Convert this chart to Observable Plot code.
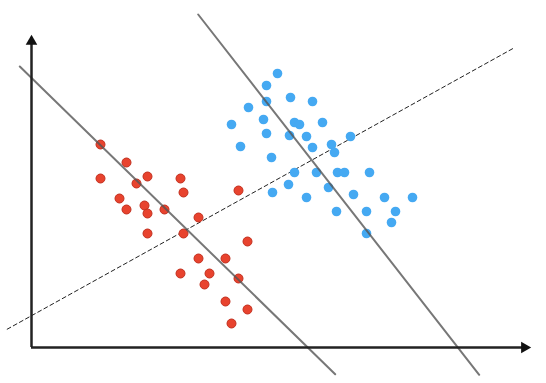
<!DOCTYPE html>
<html>
<head>
<meta charset="utf-8">
<script src="https://cdn.jsdelivr.net/npm/d3@7"></script>
<script src="https://cdn.jsdelivr.net/npm/@observablehq/plot@0.6"></script>
<style>
  html, body { margin: 0; padding: 0; background: #fff; }
  #chart svg { display: block; }
</style>
</head>
<body>
<div id="chart"></div>
<script>
// Class A (red) points
const redX = [6.9, 9.5, 6.9, 11.6, 10.5, 14.9, 15.2, 20.7, 8.8, 9.5, 11.3, 11.6, 13.3, 16.7, 11.6, 15.2, 21.6, 16.7, 19.4, 14.9, 17.8, 17.3, 20.7, 19.4, 21.6, 20.0];
const redY = [20.3, 18.5, 16.9, 17.1, 16.4, 16.9, 15.5, 15.7, 14.9, 13.8, 14.2, 13.4, 13.8, 13.0, 11.4, 11.4, 10.6, 8.9, 8.9, 7.4, 7.4, 6.3, 6.9, 4.6, 3.8, 2.4];
// Class B (blue) points
const blueX = [24.6, 23.5, 25.9, 23.5, 28.1, 21.7, 20.0, 23.2, 26.3, 26.8, 29.1, 23.5, 25.8, 27.5, 31.9, 30.0, 20.9, 28.1, 30.3, 24.0, 26.3, 28.5, 30.6, 31.3, 33.8, 25.7, 29.7, 24.1, 27.5, 32.2, 35.3, 38.1, 30.5, 33.5, 36.4, 36.0, 33.5];
const blueY = [27.4, 26.2, 25.0, 24.6, 24.6, 24.0, 22.3, 22.8, 22.5, 22.3, 22.5, 21.4, 21.2, 21.1, 21.1, 20.3, 20.1, 20.0, 19.5, 19.0, 17.5, 17.5, 17.5, 17.5, 17.5, 16.3, 16.0, 15.5, 15.0, 15.3, 15.0, 15.0, 13.6, 13.6, 13.6, 12.5, 11.4];
// Line endpoints [x1, y1, x2, y2]
const lineLeft = [-1.17, 28.1, 30.37, -2.67];
const lineRight = [16.67, 33.3, 44.77, -2.73];
const lineDashed = [-2.43, 1.83, 48.2, 29.93];
// Axes extents
const xAxisEnd = 49.2;
const yAxisEnd = 30.5;

const red = redX.map((x, i) => ({x, y: redY[i]}));
const blue = blueX.map((x, i) => ({x, y: blueY[i]}));
const seg = (a) => [{x: a[0], y: a[1]}, {x: a[2], y: a[3]}];

const chart = Plot.plot({
  width: 546,
  height: 383,
  margin: 0,
  x: {domain: [-3.1, 51.5], axis: null},
  y: {domain: [-3.6, 34.7], axis: null},
  marks: [
    Plot.line(seg(lineDashed), {x: "x", y: "y", stroke: "#222", strokeWidth: 1, strokeDasharray: "4,3"}),
    Plot.dot(red, {x: "x", y: "y", r: 4.5, fill: "#e8432e", stroke: "#c22f1e", strokeWidth: 1}),
    Plot.dot(blue, {x: "x", y: "y", r: 4.8, fill: "#45a9f2", stroke: "none"}),
    Plot.line(seg(lineLeft), {x: "x", y: "y", stroke: "#555", strokeOpacity: 0.8, strokeWidth: 2}),
    Plot.line(seg(lineRight), {x: "x", y: "y", stroke: "#555", strokeOpacity: 0.8, strokeWidth: 2}),
    Plot.ruleX([0], {y1: 0, y2: yAxisEnd, stroke: "#222", strokeWidth: 2.5}),
    Plot.ruleY([0], {x1: 0, x2: xAxisEnd, stroke: "#222", strokeWidth: 2.5}),
    Plot.dot([{x: 0, y: yAxisEnd + 0.1, a: 0}, {x: xAxisEnd + 0.1, y: 0, a: 90}], {x: "x", y: "y", rotate: "a", symbol: "triangle", r: 4.3, fill: "#111", stroke: "none"})
  ]
});
document.getElementById("chart").appendChild(chart);
</script>
</body>
</html>
